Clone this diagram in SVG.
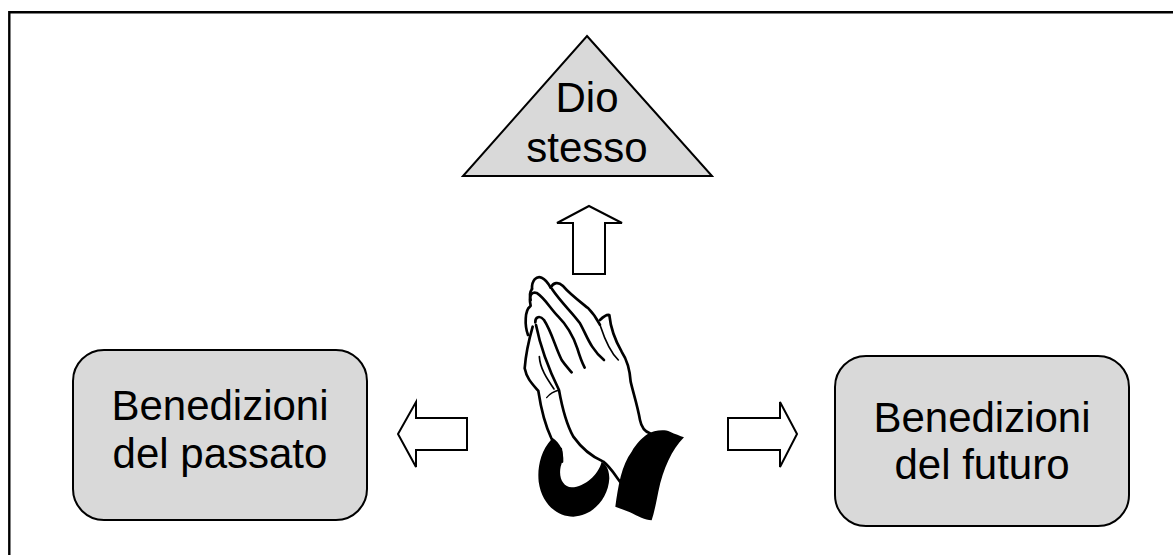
<svg xmlns="http://www.w3.org/2000/svg" width="1173" height="555" viewBox="0 0 1173 555">
<style>
.s{fill:#d9d9d9;stroke:#000;stroke-width:2}
.a{fill:#fff;stroke:#000;stroke-width:2}
.t{font-family:"Liberation Sans",Arial,sans-serif;font-size:42px;fill:#000;text-anchor:middle}
.h{fill:none;stroke:#000;stroke-width:8;stroke-linecap:round;stroke-linejoin:round}
.f{fill:#000;stroke:none}
</style>
<rect width="1173" height="555" fill="#fff"/>
<path id="frame" d="M9.3 555V12.3H1173" fill="none" stroke="#000" stroke-width="2.4"/>
<g id="dio"><path class="s" d="M587 36L712 176H463Z"/><text class="t" x="587" y="112">Dio</text><text class="t" x="587" y="162">stesso</text></g>
<g id="passato"><rect class="s" x="73" y="350" width="294" height="170" rx="31"/><text class="t" x="220" y="420">Benedizioni</text><text class="t" x="220" y="468">del passato</text></g>
<g id="futuro"><rect class="s" x="835" y="356" width="294" height="170" rx="31"/><text class="t" x="982" y="432">Benedizioni</text><text class="t" x="982" y="479">del futuro</text></g>
<g id="connectors">
<path class="a" d="M589 206L622 223H605V274H573V223H557Z"/>
<path class="a" d="M398 434L416 402V418H467V450H416V467Z"/>
<path class="a" d="M797 434L780 402V418H728V450H780V467Z"/>
</g>
<g id="hands" transform="translate(490 265) scale(.3333)">
<path class="f" d="M185 522C150 560 142 610 146 650C155 715 200 755 250 755C310 752 355 700 358 640C358 620 352 600 335 590C325 630 285 665 245 667C220 665 205 640 212 605C218 590 220 570 216 550Z"/>
<path class="f" d="M472 508C490 497 520 492 540 500C555 507 570 512 582 517C545 555 520 610 505 680C498 715 492 745 485 766C465 765 445 755 420 742L376 725C385 660 395 600 425 560C440 535 455 520 472 508Z"/>
<g class="h">
<path d="M126 72C125 45 140 32 155 38C168 43 175 55 182 68"/>
<path d="M182 68C190 52 205 50 218 62C240 88 270 110 295 130C315 150 322 165 330 180"/>
<path d="M122 122C115 90 125 80 140 84C165 100 180 130 205 155C235 185 250 215 262 250C268 270 275 290 284 308"/>
<path d="M126 72C120 80 118 90 122 105"/>
<path d="M120 125C105 135 103 180 114 210"/>
<path d="M128 185C118 220 108 260 104 310C110 340 125 355 145 378C152 425 165 480 185 522C205 535 217 555 216 590"/>
<path d="M136 172C135 155 150 150 162 165C185 200 195 245 215 285C225 300 235 310 245 322"/>
<path d="M138 180C150 240 175 310 207 375C215 420 225 470 250 515C275 550 305 575 340 590C360 605 375 630 390 650"/>
<path d="M148 275C150 310 170 340 192 372" stroke-width="5"/>
<path d="M170 398C180 385 195 378 208 375" stroke-width="4"/>
<path d="M186 72C215 115 245 140 270 175C290 210 300 250 342 285"/>
<path d="M330 165C340 155 350 148 358 150C362 190 375 225 395 260C415 290 420 320 422 350C430 385 442 420 450 465C455 490 465 500 480 505"/>
<path d="M332 185C345 225 360 260 385 285" stroke-width="5"/>
</g>
</g>
</svg>
